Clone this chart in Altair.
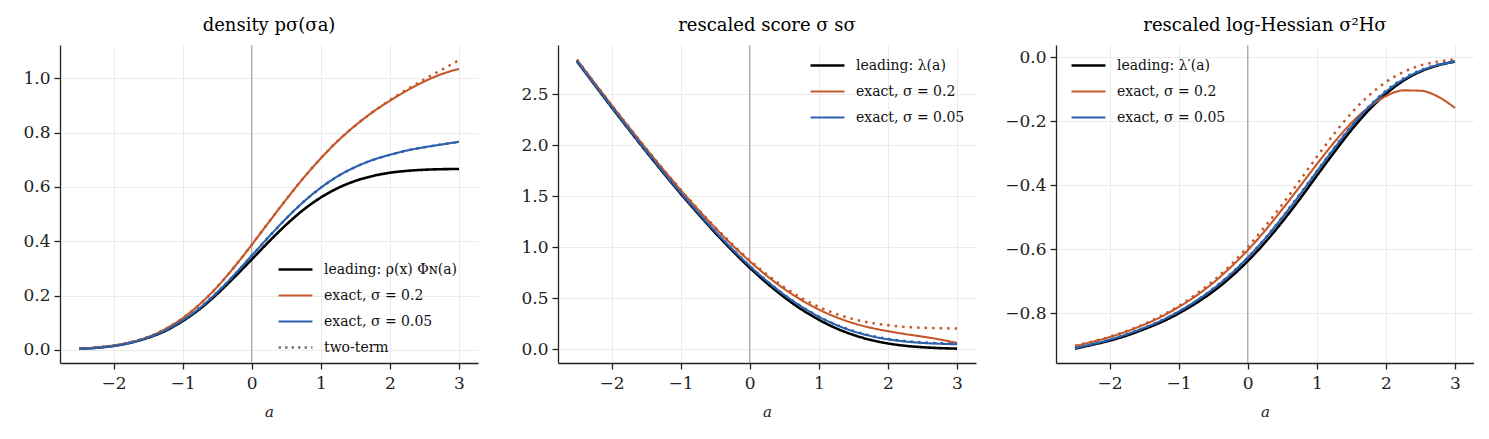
import pandas as pd
import altair as alt

# grid of a values (read every 0.25)
a_grid = [-2.5, -2.25, -2.0, -1.75, -1.5, -1.25, -1.0, -0.75, -0.5, -0.25, 0.0,
          0.25, 0.5, 0.75, 1.0, 1.25, 1.5, 1.75, 2.0, 2.25, 2.5, 2.75, 3.0]

# density p_sigma(sigma a)
lead_p = [0.004, 0.008, 0.015, 0.027, 0.045, 0.070, 0.106, 0.151, 0.206, 0.268, 0.333, 0.399,
          0.461, 0.516, 0.561, 0.596, 0.622, 0.640, 0.652, 0.659, 0.663, 0.665, 0.666]
ex02_p = [0.004, 0.009, 0.016, 0.029, 0.048, 0.077, 0.117, 0.169, 0.232, 0.306, 0.387, 0.471,
          0.554, 0.633, 0.705, 0.770, 0.826, 0.875, 0.917, 0.955, 0.988, 1.015, 1.034]
ex005_p = [0.004, 0.008, 0.015, 0.027, 0.046, 0.072, 0.109, 0.155, 0.212, 0.277, 0.347, 0.417,
           0.484, 0.545, 0.597, 0.640, 0.673, 0.699, 0.718, 0.734, 0.746, 0.756, 0.766]
tt02_p = [0.004, 0.009, 0.016, 0.029, 0.048, 0.077, 0.117, 0.169, 0.232, 0.306, 0.387, 0.471,
          0.554, 0.633, 0.705, 0.770, 0.826, 0.875, 0.919, 0.959, 0.996, 1.031, 1.066]
tt005_p = [0.004, 0.008, 0.015, 0.027, 0.046, 0.072, 0.109, 0.155, 0.212, 0.277, 0.347, 0.417,
           0.484, 0.545, 0.597, 0.640, 0.673, 0.699, 0.718, 0.734, 0.746, 0.756, 0.766]

# rescaled score sigma s_sigma
lead_s = [2.823, 2.597, 2.373, 2.154, 1.939, 1.729, 1.525, 1.329, 1.141, 0.964, 0.798, 0.646,
          0.509, 0.389, 0.288, 0.204, 0.139, 0.090, 0.055, 0.032, 0.018, 0.009, 0.004]
ex02_s = [2.839, 2.615, 2.394, 2.178, 1.966, 1.760, 1.561, 1.370, 1.189, 1.018, 0.861, 0.717,
          0.590, 0.480, 0.388, 0.313, 0.254, 0.209, 0.175, 0.147, 0.122, 0.094, 0.059]
ex005_s = [2.827, 2.601, 2.379, 2.160, 1.946, 1.737, 1.535, 1.340, 1.154, 0.979, 0.815, 0.666,
           0.532, 0.416, 0.317, 0.237, 0.174, 0.128, 0.095, 0.074, 0.060, 0.052, 0.047]
tt02_s = [2.841, 2.617, 2.396, 2.180, 1.969, 1.763, 1.565, 1.375, 1.195, 1.026, 0.871, 0.730,
          0.606, 0.501, 0.414, 0.345, 0.293, 0.257, 0.233, 0.217, 0.209, 0.204, 0.202]
tt005_s = [2.827, 2.601, 2.379, 2.160, 1.946, 1.737, 1.535, 1.340, 1.155, 0.979, 0.816, 0.667,
           0.533, 0.417, 0.319, 0.239, 0.177, 0.132, 0.100, 0.078, 0.065, 0.058, 0.054]

# rescaled log-Hessian sigma^2 H_sigma
lead_h = [-0.911, -0.899, -0.886, -0.870, -0.850, -0.828, -0.801, -0.769, -0.732, -0.688, -0.637, -0.579,
          -0.514, -0.444, -0.370, -0.297, -0.227, -0.165, -0.114, -0.073, -0.044, -0.025, -0.013]
ex02_h = [-0.903, -0.890, -0.875, -0.857, -0.836, -0.811, -0.781, -0.746, -0.705, -0.657, -0.603, -0.542,
          -0.475, -0.405, -0.334, -0.266, -0.205, -0.156, -0.121, -0.103, -0.104, -0.122, -0.158]
ex005_h = [-0.909, -0.897, -0.883, -0.866, -0.846, -0.823, -0.795, -0.762, -0.724, -0.679, -0.626, -0.567,
           -0.501, -0.431, -0.357, -0.285, -0.216, -0.156, -0.107, -0.069, -0.042, -0.024, -0.014]
tt02_h = [-0.902, -0.889, -0.874, -0.856, -0.834, -0.808, -0.778, -0.741, -0.699, -0.650, -0.593, -0.529,
          -0.460, -0.386, -0.311, -0.239, -0.174, -0.120, -0.077, -0.046, -0.025, -0.013, -0.006]
tt005_h = [-0.909, -0.897, -0.883, -0.866, -0.846, -0.823, -0.795, -0.762, -0.723, -0.678, -0.626, -0.566,
           -0.500, -0.429, -0.356, -0.283, -0.214, -0.154, -0.104, -0.066, -0.040, -0.022, -0.012]

x_ticks = [-2, -1, 0, 1, 2, 3]

FONT = "DejaVu Serif"
BLACK = "#000000"
ORANGE = "#c4582b"
BLUE = "#2b61ad"
GREY = "#777777"
EX02 = "exact, σ = 0.2"
EX005 = "exact, σ = 0.05"
TWO = "two-term"

W, H = 418, 318


def make_panel(title, lead_name, lead, ex02, ex005, tt02, tt005,
               y_domain, y_ticks, legend_x, legend_y, with_two_term):
    rows = []
    for name, vals in [(lead_name, lead), (EX02, ex02), (EX005, ex005)]:
        for a, v in zip(a_grid, vals):
            rows.append({"a": a, "v": v, "series": name})
    solid_df = pd.DataFrame(rows)
    dot02_df = pd.DataFrame({"a": a_grid, "v": tt02})
    dot005_df = pd.DataFrame({"a": a_grid, "v": tt005})

    names = [lead_name, EX02, EX005]
    colors = [BLACK, ORANGE, BLUE]
    dashes = [[1, 0], [1, 0], [1, 0]]
    widths = [2.6, 2.1, 2.1]
    if with_two_term:
        names.append(TWO)
        colors.append(GREY)
        dashes.append([2.5, 4])
        widths.append(2.4)

    x_enc = alt.X("a:Q", scale=alt.Scale(domain=[-2.775, 3.275], nice=False, zero=False),
                  axis=alt.Axis(values=x_ticks, format="d", title="a"))
    y_enc = alt.Y("v:Q", scale=alt.Scale(domain=y_domain, nice=False, zero=False),
                  axis=alt.Axis(values=y_ticks, format=".1f", title=None))

    legend = alt.Legend(title=None, orient="none", legendX=legend_x, legendY=legend_y,
                        symbolType="stroke", symbolSize=1150, labelFont=FONT,
                        labelFontSize=14, labelColor="#111", labelOffset=10,
                        rowPadding=-10, padding=0)

    zero_rule = alt.Chart(pd.DataFrame({"a": [0.0]})).mark_rule(
        color="#9a9a9a", strokeWidth=1
    ).encode(x=alt.X("a:Q"))

    solid = alt.Chart(solid_df).mark_line(interpolate="monotone").encode(
        x=x_enc,
        y=y_enc,
        color=alt.Color("series:N", scale=alt.Scale(domain=names, range=colors), legend=legend),
        strokeDash=alt.StrokeDash("series:N", scale=alt.Scale(domain=names, range=dashes), legend=legend),
        strokeWidth=alt.StrokeWidth("series:N", scale=alt.Scale(type="ordinal", domain=names, range=widths),
                                    legend=legend),
        order=alt.Order("series:N", sort="ascending"),
    )

    dot02 = alt.Chart(dot02_df).mark_line(
        interpolate="monotone", color=ORANGE, strokeDash=[2.5, 5], strokeWidth=2.5
    ).encode(x="a:Q", y="v:Q")
    dot005 = alt.Chart(dot005_df).mark_line(
        interpolate="monotone", color=BLUE, strokeDash=[2.5, 5], strokeWidth=2.5
    ).encode(x="a:Q", y="v:Q")

    return alt.layer(zero_rule, solid, dot02, dot005).properties(
        width=W, height=H,
        title=alt.TitleParams(title, font=FONT, fontSize=18, fontWeight="normal",
                              color="#000", anchor="middle", offset=10),
    )


p1 = make_panel("density pσ(σa)", "leading: ρ(x) Φɴ(a)", lead_p, ex02_p, ex005_p, tt02_p, tt005_p,
                [-0.048, 1.122], [0.0, 0.2, 0.4, 0.6, 0.8, 1.0], 217, 206, True)
p2 = make_panel("rescaled score σ sσ", "leading: λ(a)", lead_s, ex02_s, ex005_s, tt02_s, tt005_s,
                [-0.137, 2.983], [0.0, 0.5, 1.0, 1.5, 2.0, 2.5], 251, 2, False)
p3 = make_panel("rescaled log-Hessian σ²Hσ", "leading: λ′(a)", lead_h, ex02_h, ex005_h, tt02_h, tt005_h,
                [-0.956, 0.039], [-0.8, -0.6, -0.4, -0.2, 0.0], 14, 2, False)

chart = alt.hconcat(p1, p2, p3, spacing=28).resolve_scale(
    color="independent", strokeDash="independent", strokeWidth="independent", y="independent"
).resolve_legend(
    color="independent", strokeDash="independent", strokeWidth="independent"
).properties(
    padding={"left": 0, "top": 8, "right": 0, "bottom": 0}
).configure_view(
    stroke=None
).configure_axis(
    labelFont=FONT, labelFontSize=17, labelColor="#222",
    domainColor="#222", domainWidth=1.3,
    tickColor="#222", tickWidth=1.3, tickSize=6, labelPadding=4,
    gridColor="#ebebeb", gridWidth=1,
    titleFont=FONT, titleFontSize=15, titleFontStyle="italic", titleFontWeight="normal",
    titleColor="#222",
).configure_axisY(
    minExtent=52, maxExtent=52
).configure_axisX(
    labelPadding=6, titlePadding=13
)

chart.save("out.html", embed_options={"renderer": "svg", "actions": False})
